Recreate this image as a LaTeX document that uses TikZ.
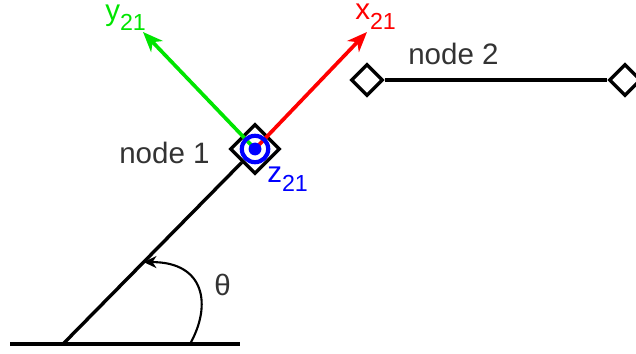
\documentclass[tikz,border=0pt]{standalone}
\usepackage{fontspec}
\setmainfont{Liberation Sans}
\usepackage{tikz}
\usetikzlibrary{arrows.meta,positioning,shapes.geometric,calc}
\definecolor{axisred}{rgb}{1.00,0.00,0.00}
\definecolor{axisgreen}{rgb}{0.00,0.90,0.00}
\definecolor{axisblue}{rgb}{0.00,0.00,1.00}
\definecolor{labelgray}{rgb}{0.20,0.20,0.20}
\newcommand{\axsub}[1]{\raisebox{-7pt}{\fontsize{16.5}{18}\selectfont #1}}

\begin{document}
\begin{tikzpicture}[x=0.025cm,y=-0.025cm,
    every node/.style={font=\fontsize{21}{25}\selectfont,inner sep=0pt},
    link/.style={line width=2.4pt},
    joint/.style={draw,diamond,line width=2.4pt,fill=white,inner sep=0pt,
                  minimum width=0.8cm,minimum height=0.8cm},
    bigjoint/.style={joint,minimum width=1.25cm,minimum height=1.25cm},
    frame/.style={line width=2.6pt,-{Stealth[length=5mm,width=4mm,inset=1.5mm]}}]
  \useasboundingbox (0,0) rectangle (636,354);
  \coordinate (gl)   at (10,344);
  \coordinate (gr)   at (240,344);
  \coordinate (base) at (63,344);
  \node[bigjoint] (n1)  at (255,149) {};
  \node[joint]    (n2a) at (367,80) {};
  \node[joint]    (n2b) at (625,80) {};
  \coordinate (xtip) at (367,32);
  \coordinate (ytip) at (143,32);
  \draw[link] (gl) -- (gr);
  \draw[link] (base) -- (n1);
  \draw[link] (n2a) -- (n2b);
  \draw[frame,axisred]   (n1.center) -- (xtip);
  \draw[frame,axisgreen] (n1.center) -- (ytip);
  \draw[axisblue,line width=3pt] (n1.center) circle[radius=0.33cm];
  \fill[axisblue] (n1.center) circle[radius=0.16cm];
  \coordinate (arcstart) at (190,344);
  \coordinate (arcend) at ($(base)!0.42!(n1.center)$);
  \draw[line width=1.5pt,-{Stealth[length=3.2mm,width=3mm,inset=1mm]}]
       (arcstart) .. controls (212,305) and (205,262) .. (arcend);
  \node[anchor=base west,text=labelgray] (lab1)  at (119,163) {node 1};
  \node[anchor=base west,text=labelgray] (lab2)  at (408,65)  {node 2};
  \node[anchor=base west,text=labelgray] (theta) at (214,295) {θ};
  \node[anchor=base west,text=axisred]   (xlab)  at (355,20)  {x\axsub{21}};
  \node[anchor=base west,text=axisgreen] (ylab)  at (105,21)  {y\axsub{21}};
  \node[anchor=base west,text=axisblue]  (zlab)  at (267,182) {z\axsub{21}};
\end{tikzpicture}
\end{document}
